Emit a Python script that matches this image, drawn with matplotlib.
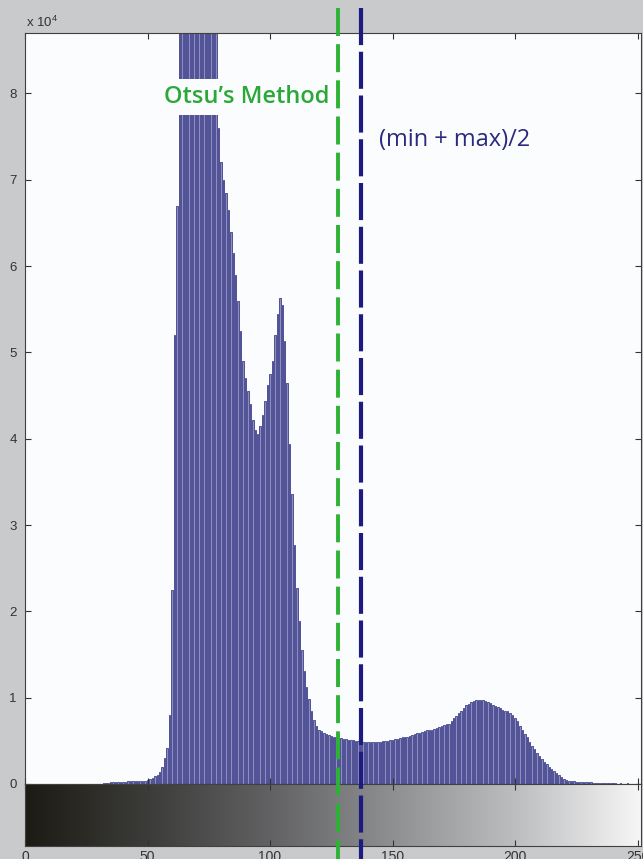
import numpy as np
import matplotlib
matplotlib.use('Agg')
import matplotlib.pyplot as plt
from matplotlib.colors import LinearSegmentedColormap
from matplotlib.lines import Line2D
from matplotlib.transforms import blended_transform_factory

plt.rcParams['font.family'] = ['Liberation Sans', 'DejaVu Sans']
plt.rcParams['mathtext.default'] = 'regular'

# Histogram counts (units of 1e4), one value per grey level 0..255
empty_low = [0.0] * 32                                   # levels 0-31
tail_low = [0.01, 0.01, 0.015, 0.02, 0.02, 0.02, 0.02, 0.025, 0.025,
            0.025, 0.03, 0.03, 0.03, 0.03, 0.035, 0.035, 0.04, 0.04]  # 32-49
rise = [0.05, 0.06, 0.07, 0.09, 0.11, 0.14, 0.2, 0.3, 0.42, 0.8,
        2.25, 5.2, 6.7]                                  # 50-62
# 63-78 run off the top of the axes (ylim 8.7e4)
peak_clipped = [9.0, 9.8, 10.5, 11.1, 11.5, 11.8, 12.0, 11.9, 11.6, 11.2,
                10.7, 10.2, 9.7, 9.3, 9.0, 8.8]
shoulder = [7.6, 7.2, 7.0, 6.85, 6.65, 6.4, 6.15, 5.9, 5.6, 5.25, 4.9,
            4.7, 4.55, 4.4, 4.22, 4.1, 4.05, 4.15, 4.28, 4.44, 4.62]  # 79-99
second_peak = [4.75, 4.9, 5.2, 5.44, 5.63, 5.55, 5.13, 4.65, 3.94, 3.36,
               2.77, 2.27, 1.89, 1.55, 1.31, 1.12, 0.98, 0.84, 0.74, 0.67]  # 100-119
plateau = [0.63, 0.61, 0.59, 0.58, 0.57, 0.56, 0.55, 0.54, 0.53, 0.53,
           0.52, 0.52, 0.51, 0.51, 0.51, 0.50, 0.50, 0.49, 0.49, 0.49,
           0.49, 0.49, 0.49, 0.49, 0.49, 0.49, 0.50, 0.50, 0.50, 0.51,
           0.51, 0.52, 0.52, 0.53, 0.54, 0.55, 0.55, 0.56, 0.57, 0.58,
           0.59, 0.59, 0.60, 0.61, 0.62, 0.62, 0.63, 0.64, 0.65, 0.66,
           0.67, 0.68, 0.69, 0.70, 0.73, 0.76]            # 120-175
bright_hump = [0.79, 0.82, 0.85, 0.88, 0.91, 0.93, 0.95, 0.96, 0.97, 0.97,
               0.97, 0.97, 0.96, 0.95, 0.94, 0.92, 0.90, 0.89, 0.88, 0.86,
               0.85, 0.84]                                # 176-197
falloff = [0.82, 0.80, 0.77, 0.73, 0.67, 0.62, 0.58, 0.54, 0.49, 0.44,
           0.40, 0.36, 0.32, 0.29, 0.26, 0.23, 0.20, 0.17, 0.15, 0.13,
           0.10, 0.08, 0.06, 0.05, 0.04, 0.035, 0.03]    # 198-224
tail_high = [0.025, 0.025, 0.02, 0.02, 0.02, 0.02, 0.02, 0.015, 0.015,
             0.015, 0.015, 0.01, 0.01, 0.01, 0.01, 0.01, 0.01, 0.0, 0.01,
             0.0, 0.0, 0.01, 0.0, 0.0, 0.0, 0.0, 0.0, 0.0, 0.0, 0.0, 0.0]  # 225-255

counts = (empty_low + tail_low + rise + peak_clipped + shoulder + second_peak
          + plateau + bright_hump + falloff + tail_high)
levels = list(range(256))
assert len(counts) == len(levels)

otsu_level = 127.8
midrange_level = 137.1
x_ticks = [0, 50, 100, 150, 200, 250]
y_ticks = [0, 1, 2, 3, 4, 5, 6, 7, 8]

W, H = 643, 859


def px_rect(left, top, right, bottom):
    return [left / W, 1 - bottom / H, (right - left) / W, (bottom - top) / H]


fig = plt.figure(figsize=(W / 100, H / 100), dpi=100, facecolor='#c9cacc')
ax = fig.add_axes(px_rect(25, 33, 641, 784))
cax = fig.add_axes(px_rect(25, 784, 641, 846))

xmax = (641 - 25) / 2.45

# histogram
ax.set_facecolor('#fbfcfe')
ax.bar(levels, counts, width=0.6, color='#8e8ebe', edgecolor='#23237a',
       linewidth=0.5)
ax.set_xlim(0, xmax)
ax.set_ylim(0, 8.7)
ax.set_xticks(x_ticks)
ax.set_yticks(y_ticks)
ax.set_yticklabels([str(t) for t in y_ticks])
ax.tick_params(direction='in', top=True, right=True, length=4, width=0.8,
               labelsize=9.5, pad=6, labelbottom=False, colors='#333333')
for s in ax.spines.values():
    s.set_color('#404040')
    s.set_linewidth(0.8)

# grey-level ramp under the histogram
ramp = LinearSegmentedColormap.from_list(
    'ramp', ['#1c1b14', '#3c3c3a', '#626264', '#8f9092', '#bdbec0', '#f6f6f6'])
cax.imshow(np.array(levels)[None, :], aspect='auto', cmap=ramp,
           extent=[0, xmax, 0, 1])
cax.set_xlim(0, xmax)
cax.set_ylim(0, 1)
cax.set_yticks([])
cax.set_xticks(x_ticks)
cax.set_xticklabels([str(t) for t in x_ticks])
cax.tick_params(direction='in', top=True, length=4, width=0.8,
                labelsize=10, pad=3, colors='#333333')
for s in cax.spines.values():
    s.set_color('#404040')
    s.set_linewidth(0.8)

# threshold markers (span whole figure height)
trans = blended_transform_factory(ax.transData, fig.transFigure)
fig.add_artist(Line2D([otsu_level, otsu_level], [1 - 8 / H, 0], transform=trans,
                      color='#2db236', lw=2.8, linestyle=(0, (7.2, 2.1)),
                      zorder=5))
fig.add_artist(Line2D([midrange_level, midrange_level], [1 - 8 / H, 0],
                      transform=trans, color='#1c1c80', lw=3.0,
                      linestyle=(0, (8.9, 1.6)), zorder=5))

fig.text(247 / W, 1 - 97 / H, 'Otsu\u2019s Method', family=['Open Sans', 'DejaVu Sans'],
         fontsize=17, weight='semibold', color='#2aa838', ha='center', va='center',
         zorder=4, bbox=dict(boxstyle='square,pad=0.25', fc='#fbfcfe', ec='none'))
fig.text(455 / W, 1 - 140 / H, '(min + max)/2', family=['Open Sans', 'DejaVu Sans'],
         fontsize=17, color='#2b2a7e', ha='center', va='center', zorder=4)

fig.text(26 / W, 1 - 27 / H, r'x 10$^{4}$', fontsize=9.5, color='#333333',
         ha='left', va='baseline')

fig.savefig('out.png', dpi=100, facecolor=fig.get_facecolor())
